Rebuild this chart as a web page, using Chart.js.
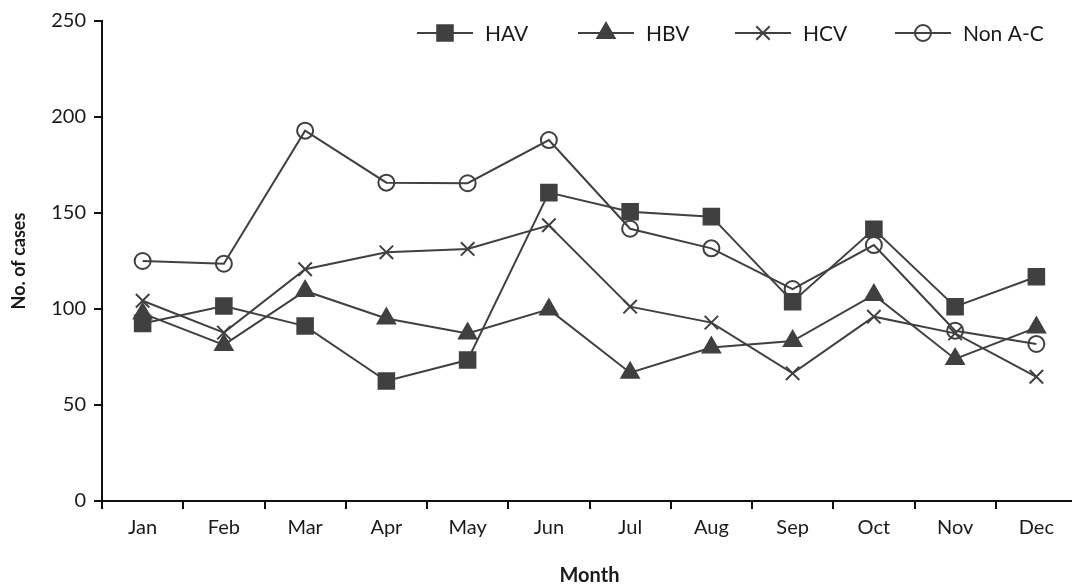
<!DOCTYPE html>
<html>
<head>
<meta charset="utf-8">
<script src="https://cdn.jsdelivr.net/npm/chart.js@4/dist/chart.umd.min.js"></script>
<style>
  html, body { margin: 0; padding: 0; background: #fff; overflow: hidden; }
  #wrap { position: relative; width: 1090px; height: 588px; }
</style>
</head>
<body>
<div id="wrap"><canvas id="c" width="1090" height="588"></canvas></div>
<script>
const months = ['Jan','Feb','Mar','Apr','May','Jun','Jul','Aug','Sep','Oct','Nov','Dec'];
const hav    = [92.5, 101.6, 91.1, 62.5, 73.4, 160.6, 150.7, 148.1, 103.8, 141.5, 101.2, 116.8];
const hbv    = [97.7, 81.3, 109.4, 95.1, 87.3, 99.8, 66.8, 79.9, 83.3, 107.3, 74.0, 90.3];
const hcv    = [104.3, 87.7, 120.7, 129.5, 131.3, 143.6, 101.2, 92.9, 66.5, 96.0, 87.3, 64.7];
const nonAC  = [125.0, 123.6, 192.9, 165.8, 165.5, 188.0, 141.8, 131.6, 110.4, 133.3, 88.7, 81.8];
const yTicks = [0, 50, 100, 150, 200, 250];
const seriesNames = ['HAV', 'HBV', 'HCV', 'Non A-C'];

const INK = '#404040';
const TEXT = '#1a1a1a';
const FONT = 'Lato, "Open Sans", sans-serif';

function ds(label, data, style, radius, bg) {
  return {
    label, data,
    borderColor: INK, borderWidth: 2, tension: 0,
    pointStyle: style, pointRadius: radius, pointHoverRadius: radius,
    pointBackgroundColor: bg, pointBorderColor: INK, pointBorderWidth: 2,
    clip: false
  };
}

const legendPlugin = {
  id: 'lineLegend',
  afterDraw(chart) {
    const ctx = chart.ctx;
    const starts = [417, 578, 735, 895];
    const y = 33, lineLen = 56, gap = 12;
    ctx.save();
    chart.data.datasets.forEach((d, i) => {
      const x0 = starts[i];
      ctx.strokeStyle = INK; ctx.lineWidth = 2;
      ctx.beginPath(); ctx.moveTo(x0, y); ctx.lineTo(x0 + lineLen, y); ctx.stroke();
      ctx.fillStyle = d.pointBackgroundColor; ctx.strokeStyle = INK; ctx.lineWidth = 2;
      Chart.helpers.drawPoint(ctx, {pointStyle: d.pointStyle, radius: d.pointRadius, rotation: 0, borderWidth: 2}, x0 + lineLen / 2, y);
      ctx.fillStyle = TEXT;
      ctx.font = '21px ' + FONT;
      ctx.textBaseline = 'middle';
      ctx.textAlign = 'left';
      ctx.fillText(d.label, x0 + lineLen + gap, y + 1);
    });
    ctx.restore();
  }
};

new Chart(document.getElementById('c'), {
  type: 'line',
  data: {
    labels: months,
    datasets: [
      ds(seriesNames[0], hav, 'rect', 11, INK),
      ds(seriesNames[1], hbv, 'triangle', 10, INK),
      ds(seriesNames[2], hcv, 'crossRot', 9.5, INK),
      ds(seriesNames[3], nonAC, 'circle', 8, 'rgba(0,0,0,0)')
    ]
  },
  options: {
    responsive: false,
    animation: false,
    events: [],
    layout: { padding: { top: 21, right: 11, bottom: 0, left: 0 } },
    plugins: { legend: { display: false }, tooltip: { enabled: false } },
    scales: {
      x: {
        type: 'category',
        offset: true,
        grid: { display: true, offset: true, drawOnChartArea: false, drawTicks: true, tickLength: 8, color: '#111', lineWidth: 2 },
        border: { display: true, color: '#111', width: 2 },
        ticks: { color: TEXT, font: { family: FONT, size: 20 }, padding: 7, maxRotation: 0, autoSkip: false },
        title: { display: true, text: 'Month', color: TEXT, font: { family: FONT, size: 20, weight: 'bold' }, padding: { top: 0, bottom: 0 } },
        afterFit(scale) { scale.height = 87; }
      },
      y: {
        min: 0, max: 250,
        afterBuildTicks(scale) { scale.ticks = yTicks.map(v => ({ value: v })); },
        grid: { display: true, drawOnChartArea: false, drawTicks: true, tickLength: 8, color: '#111', lineWidth: 2 },
        border: { display: true, color: '#111', width: 2 },
        ticks: { color: TEXT, font: { family: FONT, size: 20 }, padding: 8 },
        title: { display: true, text: 'No. of cases', color: TEXT, font: { family: FONT, size: 18, weight: 'bold' }, padding: { top: 8, bottom: 0 } },
        afterFit(scale) { scale.width = 102; }
      }
    }
  },
  plugins: [legendPlugin]
});
</script>
</body>
</html>
